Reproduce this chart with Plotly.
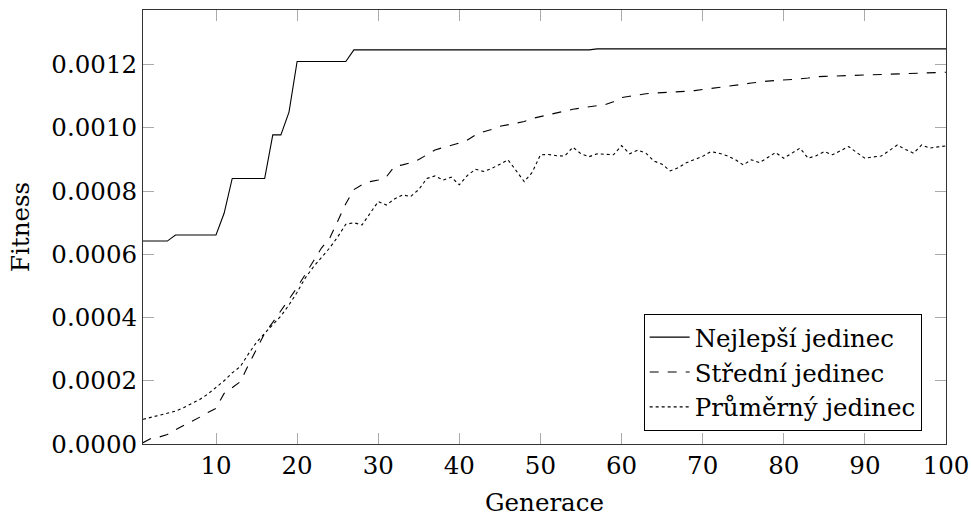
import plotly.graph_objects as go

generations = list(range(1, 101))

best = [
    0.000642, 0.000642, 0.000642, 0.000642, 0.000661, 0.000661, 0.000661, 0.000661, 0.000661, 0.000661,
    0.000730, 0.000840, 0.000840, 0.000840, 0.000840, 0.000840, 0.000978, 0.000978, 0.001050, 0.001210,
    0.001210, 0.001210, 0.001210, 0.001210, 0.001210, 0.001210, 0.001247, 0.001247, 0.001247, 0.001247,
    0.001247, 0.001247, 0.001247, 0.001247, 0.001247, 0.001247, 0.001247, 0.001247, 0.001247, 0.001247,
    0.001247, 0.001247, 0.001247, 0.001247, 0.001247, 0.001247, 0.001247, 0.001247, 0.001247, 0.001247,
    0.001247, 0.001247, 0.001247, 0.001247, 0.001247, 0.001247, 0.001250, 0.001250, 0.001250, 0.001250,
    0.001250, 0.001250, 0.001250, 0.001250, 0.001250, 0.001250, 0.001250, 0.001250, 0.001250, 0.001250,
    0.001250, 0.001250, 0.001250, 0.001250, 0.001250, 0.001250, 0.001250, 0.001250, 0.001250, 0.001250,
    0.001250, 0.001250, 0.001250, 0.001250, 0.001250, 0.001250, 0.001250, 0.001250, 0.001250, 0.001250,
    0.001250, 0.001250, 0.001250, 0.001250, 0.001250, 0.001250, 0.001250, 0.001250, 0.001250, 0.001250,
]

median = [
    0.000004, 0.000018, 0.000022, 0.000030, 0.000045, 0.000058, 0.000072, 0.000085, 0.000100, 0.000113,
    0.000160, 0.000178, 0.000197, 0.000250, 0.000300, 0.000350, 0.000385, 0.000420, 0.000458, 0.000495,
    0.000535, 0.000578, 0.000620, 0.000650, 0.000705, 0.000760, 0.000805, 0.000820, 0.000830, 0.000835,
    0.000845, 0.000878, 0.000883, 0.000890, 0.000900, 0.000915, 0.000930, 0.000938, 0.000945, 0.000952,
    0.000962, 0.000978, 0.000988, 0.000995, 0.001005, 0.001010, 0.001013, 0.001020, 0.001030, 0.001036,
    0.001042, 0.001048, 0.001054, 0.001059, 0.001063, 0.001067, 0.001070, 0.001074, 0.001083, 0.001096,
    0.001100, 0.001105, 0.001108, 0.001110, 0.001111, 0.001112, 0.001114, 0.001116, 0.001118, 0.001121,
    0.001125, 0.001128, 0.001130, 0.001134, 0.001138, 0.001142, 0.001146, 0.001148, 0.001150, 0.001151,
    0.001152, 0.001155, 0.001158, 0.001162, 0.001163, 0.001164, 0.001165, 0.001166, 0.001167, 0.001168,
    0.001169, 0.001170, 0.001171, 0.001171, 0.001172, 0.001172, 0.001173, 0.001174, 0.001175, 0.001176,
]

average = [
    0.000078, 0.000085, 0.000090, 0.000097, 0.000104, 0.000115, 0.000127, 0.000141, 0.000158, 0.000179,
    0.000200, 0.000225, 0.000245, 0.000285, 0.000322, 0.000350, 0.000378, 0.000405, 0.000440, 0.000480,
    0.000525, 0.000560, 0.000590, 0.000620, 0.000655, 0.000695, 0.000700, 0.000693, 0.000730, 0.000767,
    0.000756, 0.000775, 0.000788, 0.000783, 0.000805, 0.000840, 0.000848, 0.000835, 0.000844, 0.000820,
    0.000850, 0.000869, 0.000862, 0.000872, 0.000885, 0.000899, 0.000865, 0.000830, 0.000860, 0.000915,
    0.000916, 0.000912, 0.000911, 0.000939, 0.000918, 0.000909, 0.000918, 0.000916, 0.000915, 0.000944,
    0.000918, 0.000930, 0.000920, 0.000895, 0.000885, 0.000864, 0.000874, 0.000890, 0.000899, 0.000910,
    0.000925, 0.000920, 0.000912, 0.000900, 0.000883, 0.000899, 0.000890, 0.000905, 0.000922, 0.000904,
    0.000920, 0.000936, 0.000904, 0.000912, 0.000925, 0.000915, 0.000928, 0.000941, 0.000922, 0.000904,
    0.000908, 0.000911, 0.000928, 0.000946, 0.000932, 0.000920, 0.000946, 0.000936, 0.000940, 0.000943,
]

series_names = ["Nejlepší jedinec", "Střední jedinec", "Průměrný jedinec"]
x_ticks = [10, 20, 30, 40, 50, 60, 70, 80, 90, 100]
y_ticks = [0.0, 0.0002, 0.0004, 0.0006, 0.0008, 0.0010, 0.0012]

FONT = "DejaVu Serif, Liberation Serif, serif"
FS = 24.5

fig = go.Figure()
fig.add_trace(go.Scatter(x=generations, y=best, mode="lines", name=series_names[0],
                         line=dict(color="black", width=1.1, dash="solid")))
fig.add_trace(go.Scatter(x=generations, y=median, mode="lines", name=series_names[1],
                         line=dict(color="black", width=1.1, dash="dash")))
fig.add_trace(go.Scatter(x=generations, y=average, mode="lines", name=series_names[2],
                         line=dict(color="black", width=1.1, dash="dot")))

axis_common = dict(
    showgrid=False, zeroline=False, showline=True, linecolor="#333333", linewidth=1,
    mirror="allticks", ticks="inside", ticklen=11, tickcolor="#aaaaaa", tickwidth=1,
    tickfont=dict(family=FONT, size=FS, color="black"), automargin=False,
)

fig.update_layout(
    width=971, height=517,
    margin=dict(l=143, r=25, t=10, b=73),
    paper_bgcolor="white", plot_bgcolor="white",
    font=dict(family=FONT, size=FS, color="black"),
    xaxis=dict(range=[1, 100], tickvals=x_ticks, ticktext=[str(v) for v in x_ticks],
               title=dict(text="Generace", font=dict(family=FONT, size=FS), standoff=14),
               **axis_common),
    yaxis=dict(range=[0, 0.001373], tickvals=y_ticks, ticktext=[f"{v:.4f}" for v in y_ticks],
               title=dict(text="Fitness", font=dict(family=FONT, size=FS), standoff=14),
               **axis_common),
    legend=dict(x=0.9697, y=0.0306, xanchor="right", yanchor="bottom",
                bgcolor="white", bordercolor="black", borderwidth=1,
                font=dict(family=FONT, size=FS), tracegroupgap=0,
                itemwidth=40),
    showlegend=True,
)

fig.write_html("out.html", config={"displayModeBar": False},
               post_script="document.body.style.margin='0px';")
